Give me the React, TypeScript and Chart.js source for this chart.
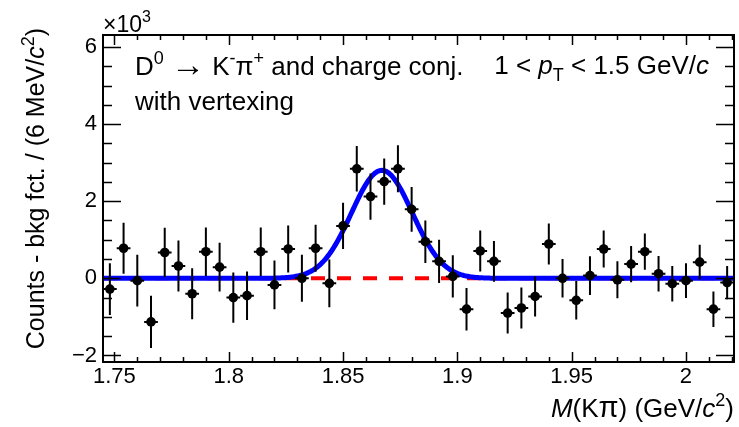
import React, { useEffect, useRef } from 'react';
import { Chart, registerables } from 'chart.js';

Chart.register(...registerables);

// ---------- data (counts in units of 10^3) ----------
const BIN_CENTERS = [
  1.748, 1.754, 1.760, 1.766, 1.772, 1.778, 1.784, 1.790, 1.796, 1.802,
  1.808, 1.814, 1.820, 1.826, 1.832, 1.838, 1.844, 1.850, 1.856, 1.862,
  1.868, 1.874, 1.880, 1.886, 1.892, 1.898, 1.904, 1.910, 1.916, 1.922,
  1.928, 1.934, 1.940, 1.946, 1.952, 1.958, 1.964, 1.970, 1.976, 1.982,
  1.988, 1.994, 2.000, 2.006, 2.012, 2.018,
];
const COUNTS = [
  -0.28, 0.78, -0.06, -1.13, 0.67, 0.32, -0.40, 0.69, 0.29, -0.50,
  -0.45, 0.69, -0.17, 0.76, 0.00, 0.78, -0.13, 1.36, 2.84, 2.12,
  2.51, 2.84, 1.79, 0.95, 0.44, 0.05, -0.80, 0.71, 0.44, -0.90,
  -0.77, -0.47, 0.89, 0.00, -0.57, 0.07, 0.76, -0.04, 0.37, 0.69,
  0.12, -0.14, -0.06, 0.42, -0.80, -0.11,
];
const ERRORS = [
  0.67, 0.66, 0.67, 0.68, 0.64, 0.66, 0.66, 0.63, 0.63, 0.65,
  0.63, 0.63, 0.63, 0.61, 0.61, 0.61, 0.62, 0.60, 0.59, 0.60,
  0.60, 0.61, 0.58, 0.55, 0.56, 0.55, 0.55, 0.53, 0.53, 0.53,
  0.53, 0.52, 0.53, 0.50, 0.50, 0.50, 0.48, 0.48, 0.47, 0.47,
  0.46, 0.46, 0.45, 0.45, 0.46, 0.43,
];
const BIN_HALF_WIDTH = 0.003;

// fit result (Gaussian signal on zero background)
const FIT_AMPLITUDE = 2.8;
const FIT_MEAN = 1.867;
const FIT_SIGMA = 0.0133;
const BKG_LEVEL = 0;

const X_MIN = 1.745;
const X_MAX = 2.021;
const Y_MIN = -2.17;
const Y_MAX = 6.31;

const X_TICKS = [1.75, 1.8, 1.85, 1.9, 1.95, 2.0];
const X_TICK_LABELS = ['1.75', '1.8', '1.85', '1.9', '1.95', '2'];
const Y_TICKS = [-2, 0, 2, 4, 6];
const Y_TICK_LABELS = ['\u22122', '0', '2', '4', '6'];
const X_MINOR_STEP = 0.01;
const Y_MINOR_STEP = 0.5;

const FAMILY = '"Liberation Sans", Arial, Helvetica, sans-serif';

type Seg = { t: string; it?: boolean; sup?: boolean; sub?: boolean; k?: number; dy?: number };

function drawRich(ctx: CanvasRenderingContext2D, segs: Seg[], x: number, y: number, size: number, align: 'left' | 'right') {
  const fontOf = (s: Seg) =>
    `${s.it ? 'italic ' : ''}${Math.round((s.sup || s.sub ? size * 0.7 : size) * (s.k || 1))}px ${FAMILY}`;
  let total = 0;
  const widths = segs.map((s) => {
    ctx.font = fontOf(s);
    const w = ctx.measureText(s.t).width;
    total += w;
    return w;
  });
  let cx = align === 'right' ? x - total : x;
  ctx.textAlign = 'left';
  ctx.textBaseline = 'alphabetic';
  segs.forEach((s, i) => {
    ctx.font = fontOf(s);
    const dy = (s.sup ? -size * 0.42 : s.sub ? size * 0.28 : 0) + (s.dy || 0);
    ctx.fillText(s.t, cx, y + dy);
    cx += widths[i];
  });
}

const decorPlugin = {
  id: 'decor',
  afterDatasetsDraw(chart: any) {
    const ctx: CanvasRenderingContext2D = chart.ctx;
    const xs = chart.scales.x;
    const ys = chart.scales.y;
    const a = chart.chartArea;
    ctx.save();
    // error bars
    ctx.beginPath();
    ctx.rect(a.left, a.top, a.right - a.left, a.bottom - a.top);
    ctx.clip();
    ctx.strokeStyle = '#000';
    ctx.lineWidth = 2;
    BIN_CENTERS.forEach((xc, i) => {
      const px = xs.getPixelForValue(xc);
      const py = ys.getPixelForValue(COUNTS[i]);
      const pTop = ys.getPixelForValue(COUNTS[i] + ERRORS[i]);
      const pBot = ys.getPixelForValue(COUNTS[i] - ERRORS[i]);
      const pl = xs.getPixelForValue(xc - BIN_HALF_WIDTH);
      const pr = xs.getPixelForValue(xc + BIN_HALF_WIDTH);
      ctx.beginPath();
      ctx.moveTo(px, pTop);
      ctx.lineTo(px, pBot);
      ctx.moveTo(pl, py);
      ctx.lineTo(pr, py);
      ctx.stroke();
    });
    ctx.restore();

    ctx.save();
    ctx.strokeStyle = '#000';
    ctx.lineWidth = 1.5;
    // ticks
    ctx.beginPath();
    for (let v = 1.75; v <= X_MAX + 1e-9; v += X_MINOR_STEP) {
      const px = Math.round(xs.getPixelForValue(v)) + 0.5;
      const major = X_TICKS.some((t) => Math.abs(t - v) < 1e-6);
      const len = major ? 10 : 5;
      ctx.moveTo(px, a.bottom);
      ctx.lineTo(px, a.bottom - len);
      ctx.moveTo(px, a.top);
      ctx.lineTo(px, a.top + len);
    }
    for (let v = -2; v <= Y_MAX + 1e-9; v += Y_MINOR_STEP) {
      const py = Math.round(ys.getPixelForValue(v)) + 0.5;
      const major = Y_TICKS.some((t) => Math.abs(t - v) < 1e-6);
      const len = major ? 18 : 9;
      ctx.moveTo(a.left, py);
      ctx.lineTo(a.left + len, py);
      ctx.moveTo(a.right, py);
      ctx.lineTo(a.right - len, py);
    }
    ctx.stroke();
    // frame
    ctx.lineWidth = 2;
    ctx.strokeRect(a.left, a.top, a.right - a.left, a.bottom - a.top);

    ctx.fillStyle = '#000';
    // x10^3
    drawRich(ctx, [{ t: '\u00d710' }, { t: '3', sup: true }], a.left, 32, 23, 'left');
    // annotations
    drawRich(ctx, [
      { t: 'D' }, { t: '0', sup: true }, { t: ' ' }, { t: '\u2192', k: 1.35, dy: 1 },
      { t: ' K' }, { t: '-', sup: true },
      { t: '\u03c0' }, { t: '+', sup: true }, { t: ' and charge conj.' },
    ], 135, 75, 25.5, 'left');
    drawRich(ctx, [{ t: 'with vertexing' }], 135, 110, 25.5, 'left');
    drawRich(ctx, [
      { t: '1 < ' }, { t: 'p', it: true }, { t: 'T', sub: true }, { t: ' < 1.5 GeV/' }, { t: 'c', it: true },
    ], 709, 74, 25.5, 'right');
    // x title
    drawRich(ctx, [
      { t: 'M', it: true }, { t: '(K' }, { t: '\u03c0', k: 1.1 }, { t: ') (GeV/' }, { t: 'c', it: true }, { t: '2', sup: true }, { t: ')' },
    ], a.right, 417, 26, 'right');
    // y title
    ctx.translate(44, 28);
    ctx.rotate(-Math.PI / 2);
    drawRich(ctx, [
      { t: 'Counts - bkg fct. / (6 MeV/' }, { t: 'c', it: true }, { t: '2', sup: true }, { t: ')' },
    ], 0, 0, 25, 'right');
    ctx.restore();
  },
};

export default function App() {
  const ref = useRef<HTMLCanvasElement | null>(null);
  useEffect(() => {
    if (!ref.current) return;
    const curveX: number[] = [];
    for (let x = X_MIN; x <= X_MAX + 1e-9; x += 0.0005) curveX.push(x);
    const fitData = curveX.map((x) => ({
      x,
      y: BKG_LEVEL + FIT_AMPLITUDE * Math.exp(-0.5 * ((x - FIT_MEAN) / FIT_SIGMA) ** 2),
    }));
    const bkgData = [{ x: X_MIN, y: BKG_LEVEL }, { x: X_MAX, y: BKG_LEVEL }];
    const points = BIN_CENTERS.map((x, i) => ({ x, y: COUNTS[i] }));

    const chart = new Chart(ref.current, {
      type: 'scatter',
      data: {
        datasets: [
          {
            data: points,
            pointRadius: 4.8,
            pointBackgroundColor: '#000',
            pointBorderColor: '#000',
            pointBorderWidth: 0,
            showLine: false,
            order: 0,
          },
          {
            data: fitData,
            showLine: true,
            borderColor: '#0000ff',
            borderWidth: 5,
            pointRadius: 0,
            tension: 0,
            order: 1,
          },
          {
            data: bkgData,
            showLine: true,
            borderColor: '#ff0000',
            borderWidth: 4,
            borderDash: [14, 12],
            pointRadius: 0,
            order: 2,
          },
        ],
      },
      options: {
        animation: false,
        responsive: false,
        devicePixelRatio: 1,
        layout: { padding: { top: 35, right: 5, left: 0, bottom: 0 } },
        plugins: { legend: { display: false }, tooltip: { enabled: false } },
        events: [],
        scales: {
          x: {
            type: 'linear',
            min: X_MIN,
            max: X_MAX,
            grid: { display: false, drawTicks: false },
            border: { display: false },
            afterBuildTicks: (s: any) => {
              s.ticks = X_TICKS.map((v) => ({ value: v }));
            },
            afterFit: (s: any) => {
              s.height = 65;
            },
            ticks: {
              autoSkip: false,
              maxRotation: 0,
              padding: 2,
              color: '#000',
              font: { family: FAMILY, size: 22 },
              callback: (v: any) => {
                const i = X_TICKS.findIndex((t) => Math.abs(t - Number(v)) < 1e-6);
                return i >= 0 ? X_TICK_LABELS[i] : '';
              },
            },
          },
          y: {
            type: 'linear',
            min: Y_MIN,
            max: Y_MAX,
            grid: { display: false, drawTicks: false },
            border: { display: false },
            afterBuildTicks: (s: any) => {
              s.ticks = Y_TICKS.map((v) => ({ value: v }));
            },
            afterFit: (s: any) => {
              s.width = 103;
            },
            ticks: {
              autoSkip: false,
              padding: 6,
              color: '#000',
              font: { family: FAMILY, size: 22 },
              callback: (v: any) => {
                const i = Y_TICKS.findIndex((t) => Math.abs(t - Number(v)) < 1e-6);
                return i >= 0 ? Y_TICK_LABELS[i] : '';
              },
            },
          },
        },
      },
      plugins: [decorPlugin],
    });
    return () => chart.destroy();
  }, []);

  return (
    <div style={{ position: 'fixed', left: 0, top: 0, width: 739, height: 427, background: '#fff' }}>
      <canvas ref={ref} width={739} height={427} style={{ display: 'block', width: 739, height: 427 }} />
    </div>
  );
}
